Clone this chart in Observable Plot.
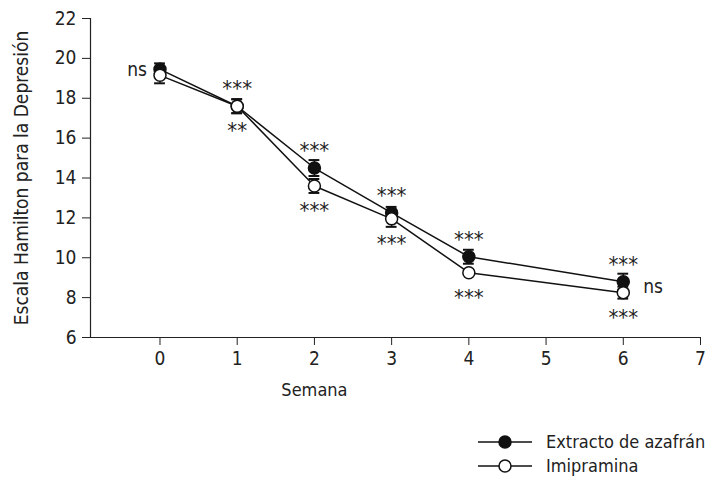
<!DOCTYPE html>
<html>
<head>
<meta charset="utf-8">
<script src="https://cdn.jsdelivr.net/npm/d3@7"></script>
<script src="https://cdn.jsdelivr.net/npm/@observablehq/plot@0.6"></script>
<style>
  body { margin: 0; background: #fff; font-family: "Liberation Sans Narrow", "DejaVu Sans Condensed", sans-serif; color: #222; }
  #legend { position: absolute; left: 478px; top: 430px; font-size: 18px; line-height: 24px; }
  .row { display: flex; align-items: center; height: 24px; }
  .row svg { margin-right: 14px; }
</style>
</head>
<body>
<div id="chart"></div>
<div id="legend"></div>
<script>
const weeks = [0, 1, 2, 3, 4, 6];
const saffron = [19.45, 17.6, 14.5, 12.25, 10.05, 8.8];
const saffronErr = [0.3, 0.35, 0.4, 0.3, 0.35, 0.4];
const imipramine = [19.15, 17.6, 13.6, 11.95, 9.25, 8.25];
const imipramineErr = [0.4, 0.35, 0.35, 0.4, 0.1, 0.3];
const sigAbove = ["", "***", "***", "***", "***", "***"];
const sigBelow = ["", "**", "***", "***", "***", "***"];
const seriesNames = ["Extracto de azafrán", "Imipramina"];
const yTicks = [6, 8, 10, 12, 14, 16, 18, 20, 22];
const xTicks = [0, 1, 2, 3, 4, 5, 6, 7];

const sData = weeks.map((w, i) => ({week: w, v: saffron[i], e: saffronErr[i], above: sigAbove[i]}));
const iData = weeks.map((w, i) => ({week: w, v: imipramine[i], e: imipramineErr[i], below: sigBelow[i]}));
const font = '"Liberation Sans Narrow", "DejaVu Sans Condensed", sans-serif';

function errMarks(data) {
  return [
    Plot.ruleX(data, {x: "week", y1: d => d.v - d.e, y2: d => d.v + d.e, stroke: "#111", strokeWidth: 1.5}),
    Plot.ruleY(data, {y: d => d.v + d.e, x1: d => d.week - 0.07, x2: d => d.week + 0.07, stroke: "#111", strokeWidth: 2}),
    Plot.ruleY(data, {y: d => d.v - d.e, x1: d => d.week - 0.07, x2: d => d.week + 0.07, stroke: "#111", strokeWidth: 2})
  ];
}

const chart = Plot.plot({
  width: 715,
  height: 420,
  marginLeft: 90,
  marginRight: 15,
  marginTop: 18,
  marginBottom: 83,
  style: {fontFamily: font, fontSize: "19px", color: "#222", background: "#fff"},
  x: {domain: [-0.9, 7], ticks: xTicks, tickSize: 8, tickPadding: 6, label: null},
  y: {domain: [6, 22], ticks: yTicks, tickSize: 8, tickPadding: 6, label: "Escala Hamilton para la Depresión", labelAnchor: "center", labelArrow: "none", labelOffset: 76},
  marks: [
    Plot.ruleX([-0.9], {stroke: "#222", strokeWidth: 1.2}),
    Plot.ruleY([6], {stroke: "#222", strokeWidth: 1.2}),
    Plot.line(sData, {x: "week", y: "v", stroke: "#111", strokeWidth: 1.5}),
    Plot.line(iData, {x: "week", y: "v", stroke: "#111", strokeWidth: 1.5}),
    ...errMarks(sData),
    ...errMarks(iData),
    Plot.dot(sData, {x: "week", y: "v", r: 6, fill: "#111", stroke: "#111", strokeWidth: 1.5}),
    Plot.dot(iData, {x: "week", y: "v", r: 6, fill: "#fff", stroke: "#111", strokeWidth: 1.5}),
    Plot.text(sData, {x: "week", y: "v", text: "above", dy: -17, fontSize: 22, fill: "#222"}),
    Plot.text(iData, {x: "week", y: "v", text: "below", dy: 25, fontSize: 22, fill: "#222"}),
    Plot.text([0], {x: d => d, y: () => saffron[0], text: () => "ns", dx: -13, dy: 1, textAnchor: "end", fontSize: 19, fill: "#222"}),
    Plot.text([6], {x: d => d, y: () => (saffron[5] + imipramine[5]) / 2, text: () => "ns", dx: 20, textAnchor: "start", fontSize: 19, fill: "#222"}),
    Plot.text(["Semana"], {x: () => 2, frameAnchor: "bottom", dy: 58, text: d => d, fontSize: 18, fill: "#222"})
  ]
});
document.getElementById("chart").appendChild(chart);

const legend = document.getElementById("legend");
seriesNames.forEach((name, i) => {
  const row = document.createElement("div");
  row.className = "row";
  const fill = i === 0 ? "#111" : "#fff";
  row.innerHTML = `<svg width="54" height="16"><line x1="0" x2="54" y1="8" y2="8" stroke="#111" stroke-width="1.5"/><circle cx="27" cy="8" r="6" fill="${fill}" stroke="#111" stroke-width="1.5"/></svg><span>${name}</span>`;
  legend.appendChild(row);
});
</script>
</body>
</html>
